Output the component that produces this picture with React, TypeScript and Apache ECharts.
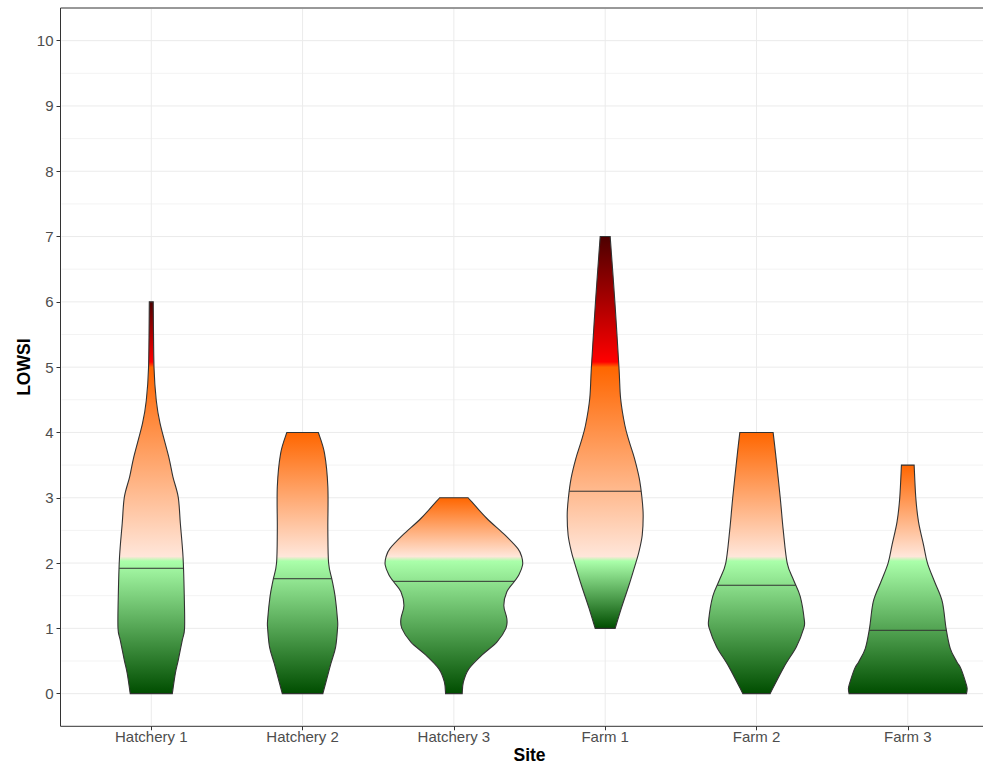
import React, { useEffect, useRef } from "react";
import * as echarts from "echarts";

// ---- data ----
const sites = ["Hatchery 1", "Hatchery 2", "Hatchery 3", "Farm 1", "Farm 2", "Farm 3"];
const yMajorTicks = [0, 1, 2, 3, 4, 5, 6, 7, 8, 9, 10];
const yMinorTicks = [0.5, 1.5, 2.5, 3.5, 4.5, 5.5, 6.5, 7.5, 8.5, 9.5];
const medians = [1.92, 1.76, 1.72, 3.1, 1.66, 0.97];

// violin outlines: LOWSI level and half-width (in category widths)
const hatchery1Level = [0, 0.31, 0.51, 0.82, 1.0, 1.5, 2.09, 2.61, 3.01, 3.32, 3.63, 4.14, 4.49, 5.0, 6.0];
const hatchery1Width = [0.139, 0.159, 0.178, 0.205, 0.22, 0.218, 0.21, 0.192, 0.178, 0.143, 0.115, 0.058, 0.033, 0.018, 0.013];
const hatchery2Level = [0, 0.2, 0.46, 0.71, 1.0, 1.13, 1.49, 1.74, 2.0, 2.5, 3.17, 3.68, 4.0];
const hatchery2Width = [0.134, 0.157, 0.187, 0.218, 0.231, 0.231, 0.215, 0.195, 0.172, 0.167, 0.167, 0.145, 0.104];
const hatchery3Level = [0, 0.18, 0.38, 0.59, 0.79, 1.0, 1.15, 1.35, 1.56, 1.71, 1.82, 1.97, 2.09, 2.22, 2.43, 2.69, 3.0];
const hatchery3Width = [0.055, 0.063, 0.099, 0.185, 0.284, 0.344, 0.35, 0.33, 0.35, 0.397, 0.43, 0.454, 0.449, 0.423, 0.337, 0.215, 0.094];
const farm1Level = [1, 1.31, 1.66, 2.0, 2.17, 2.43, 2.74, 3.0, 3.3, 3.6, 3.86, 4.11, 4.52, 5, 6, 7];
const farm1Width = [0.066, 0.107, 0.157, 0.202, 0.223, 0.245, 0.251, 0.243, 0.225, 0.194, 0.159, 0.13, 0.102, 0.091, 0.064, 0.033];
const farm2Level = [0, 0.41, 0.72, 1.0, 1.13, 1.49, 1.74, 2.0, 2.5, 3.0, 3.68, 4.0];
const farm2Width = [0.09, 0.182, 0.264, 0.312, 0.316, 0.289, 0.245, 0.203, 0.177, 0.157, 0.126, 0.11];
const farm3Level = [0, 0.06, 0.13, 0.38, 0.49, 0.69, 1.0, 1.41, 1.71, 2.0, 2.28, 2.63, 3.0, 3.5];
const farm3Width = [0.388, 0.392, 0.388, 0.352, 0.324, 0.281, 0.253, 0.228, 0.178, 0.13, 0.104, 0.071, 0.053, 0.042];

const violinLevels = [hatchery1Level, hatchery2Level, hatchery3Level, farm1Level, farm2Level, farm3Level];
const violinWidths = [hatchery1Width, hatchery2Width, hatchery3Width, farm1Width, farm2Width, farm3Width];

// colour bands
const GREEN_DARK = "#004d00";
const GREEN_LIGHT = "#aaffaa";
const PEACH = "#ffe6da";
const ORANGE = "#ff6600";
const RED = "#ff0000";
const DARK_RED = "#4d0000";

const FONT = "'Liberation Sans', Arial, sans-serif";

function smoothSegments(pts: number[][]): string {
  let d = "";
  for (let k = 0; k < pts.length - 1; k++) {
    const p0 = pts[k - 1] || pts[k];
    const p1 = pts[k];
    const p2 = pts[k + 1];
    const p3 = pts[k + 2] || p2;
    const c1x = p1[0] + (p2[0] - p0[0]) / 6;
    const c1y = p1[1] + (p2[1] - p0[1]) / 6;
    const c2x = p2[0] - (p3[0] - p1[0]) / 6;
    const c2y = p2[1] - (p3[1] - p1[1]) / 6;
    d += ` C ${c1x} ${c1y} ${c2x} ${c2y} ${p2[0]} ${p2[1]}`;
  }
  return d;
}

function widthAt(levels: number[], widths: number[], v: number): number {
  for (let k = 0; k < levels.length - 1; k++) {
    if (v >= levels[k] && v <= levels[k + 1]) {
      const t = (v - levels[k]) / (levels[k + 1] - levels[k]);
      return widths[k] + t * (widths[k + 1] - widths[k]);
    }
  }
  return widths[widths.length - 1];
}

function buildStops(vmin: number, vmax: number) {
  const off = (v: number) => Math.min(1, Math.max(0, (vmax - v) / (vmax - vmin)));
  const stops: { offset: number; color: string }[] = [];
  if (vmax > 5) {
    stops.push({ offset: off(vmax), color: DARK_RED });
    stops.push({ offset: off(5.08), color: RED });
    stops.push({ offset: off(5.0), color: ORANGE });
  } else {
    stops.push({ offset: off(vmax), color: ORANGE });
  }
  stops.push({ offset: off(2.1), color: PEACH });
  stops.push({ offset: off(2.03), color: GREEN_LIGHT });
  stops.push({ offset: off(vmin), color: GREEN_DARK });
  return stops;
}

const hiddenAxisParts = {
  axisLine: { show: false, onZero: false },
  axisTick: { show: false },
  axisLabel: { show: false },
  splitLine: { show: false },
  minorTick: { show: false },
  minorSplitLine: { show: false },
  axisPointer: { show: false },
};

export default function App() {
  const ref = useRef<HTMLDivElement>(null);

  useEffect(() => {
    if (!ref.current) return;
    const chart = echarts.init(ref.current, null, { renderer: "svg" });

    const panelLeft = 60.5;
    const spacing = 151.3;
    const panelTop = 8;
    const panelHeight = 718.3;
    const unitY = panelHeight / 11;

    const option: any = {
      animation: false,
      backgroundColor: "#ffffff",
      tooltip: { show: false },
      grid: [
        {
          left: panelLeft,
          top: panelTop,
          width: spacing * 6.2,
          height: panelHeight,
          show: true,
          borderColor: "#333333",
          borderWidth: 1,
          backgroundColor: "#ffffff",
          containLabel: false,
          outerBoundsMode: "none",
        },
        {
          left: panelLeft + spacing * 0.6 - spacing / 2,
          top: panelTop + unitY * 0.5,
          width: spacing * 6,
          height: unitY * 10,
          containLabel: false,
          outerBoundsMode: "none",
        },
      ],
      xAxis: [
        { type: "value", gridIndex: 0, min: -0.6, max: 5.6, show: false, position: "top", ...hiddenAxisParts },
        {
          type: "category",
          gridIndex: 1,
          data: sites,
          position: "bottom",
          offset: unitY * 0.5,
          boundaryGap: true,
          axisLine: { show: false, onZero: false },
          axisTick: { show: true, alignWithLabel: true, length: 4, lineStyle: { color: "#333333", width: 1 } },
          axisLabel: { color: "#4d4d4d", fontSize: 15, fontFamily: FONT, margin: 3 },
          splitLine: { show: false },
          name: "Site",
          nameLocation: "middle",
          nameGap: 20,
          nameMoveOverlap: false,
          nameTextStyle: { color: "#000000", fontWeight: "bold", fontSize: 17.5, fontFamily: FONT },
        },
      ],
      yAxis: [
        { type: "value", gridIndex: 0, min: -0.5, max: 10.5, show: false, position: "right", ...hiddenAxisParts },
        {
          type: "value",
          gridIndex: 1,
          min: 0,
          max: 10,
          interval: 1,
          offset: spacing * 0.1,
          axisLine: { show: false, onZero: false },
          axisTick: { show: true, length: 4, lineStyle: { color: "#333333", width: 1 } },
          axisLabel: { color: "#4d4d4d", fontSize: 15, fontFamily: FONT, margin: 7 },
          splitLine: { show: false },
          name: "LOWSI",
          nameLocation: "middle",
          nameGap: 28,
          nameMoveOverlap: false,
          nameTextStyle: { color: "#000000", fontWeight: "bold", fontSize: 17.5, fontFamily: FONT },
        },
      ],
      series: [
        {
          type: "custom",
          name: "hgrid",
          xAxisIndex: 0,
          yAxisIndex: 0,
          silent: true,
          z: 1,
          data: [
            ...yMinorTicks.map((v) => [0, v, 0]),
            ...yMajorTicks.map((v) => [0, v, 1]),
          ],
          renderItem: (params: any, api: any) => {
            const cs = params.coordSys;
            const y = api.coord([0, api.value(1)])[1];
            const major = api.value(2) === 1;
            return {
              type: "line",
              shape: { x1: cs.x + 1, y1: y, x2: cs.x + cs.width, y2: y },
              style: { stroke: major ? "#ebebeb" : "#f3f3f3", lineWidth: 1 },
            };
          },
        },
        {
          type: "custom",
          name: "vgrid",
          xAxisIndex: 0,
          yAxisIndex: 0,
          silent: true,
          z: 1,
          data: sites.map((_, i) => [i, 5]),
          renderItem: (params: any, api: any) => {
            const cs = params.coordSys;
            const x = api.coord([api.value(0), 0])[0];
            return {
              type: "line",
              shape: { x1: x, y1: cs.y + 1, x2: x, y2: cs.y + cs.height - 1 },
              style: { stroke: "#ebebeb", lineWidth: 1 },
            };
          },
        },
        {
          type: "custom",
          name: "violins",
          xAxisIndex: 0,
          yAxisIndex: 0,
          silent: true,
          z: 3,
          data: sites.map((_, i) => [i, medians[i]]),
          renderItem: (params: any, api: any) => {
            const i = api.value(0);
            const levels = violinLevels[i];
            const widths = violinWidths[i];
            const right = levels.map((v, k) => api.coord([i + widths[k], v]));
            const left = levels.map((v, k) => api.coord([i - widths[k], v])).reverse();
            const d =
              `M ${right[0][0]} ${right[0][1]}` +
              smoothSegments(right) +
              ` L ${left[0][0]} ${left[0][1]}` +
              smoothSegments(left) +
              " Z";
            const vmin = levels[0];
            const vmax = levels[levels.length - 1];
            const yTop = api.coord([i, vmax])[1];
            const yBot = api.coord([i, vmin])[1];
            const fill = new echarts.graphic.LinearGradient(0, yTop, 0, yBot, buildStops(vmin, vmax), true);
            const m = api.value(1);
            const mw = widthAt(levels, widths, m);
            const pL = api.coord([i - mw, m]);
            const pR = api.coord([i + mw, m]);
            return {
              type: "group",
              children: [
                {
                  type: "path",
                  shape: { pathData: d },
                  style: { fill, stroke: "#333333", lineWidth: 1.1 },
                },
                {
                  type: "line",
                  shape: { x1: pL[0], y1: pL[1], x2: pR[0], y2: pR[1] },
                  style: { stroke: "#333333", lineWidth: 1 },
                },
              ],
            };
          },
        },
      ],
    };

    chart.setOption(option);
    return () => chart.dispose();
  }, []);

  return (
    <div
      ref={ref}
      style={{ position: "absolute", left: 0, top: 0, width: 983, height: 766, background: "#fff" }}
    />
  );
}
